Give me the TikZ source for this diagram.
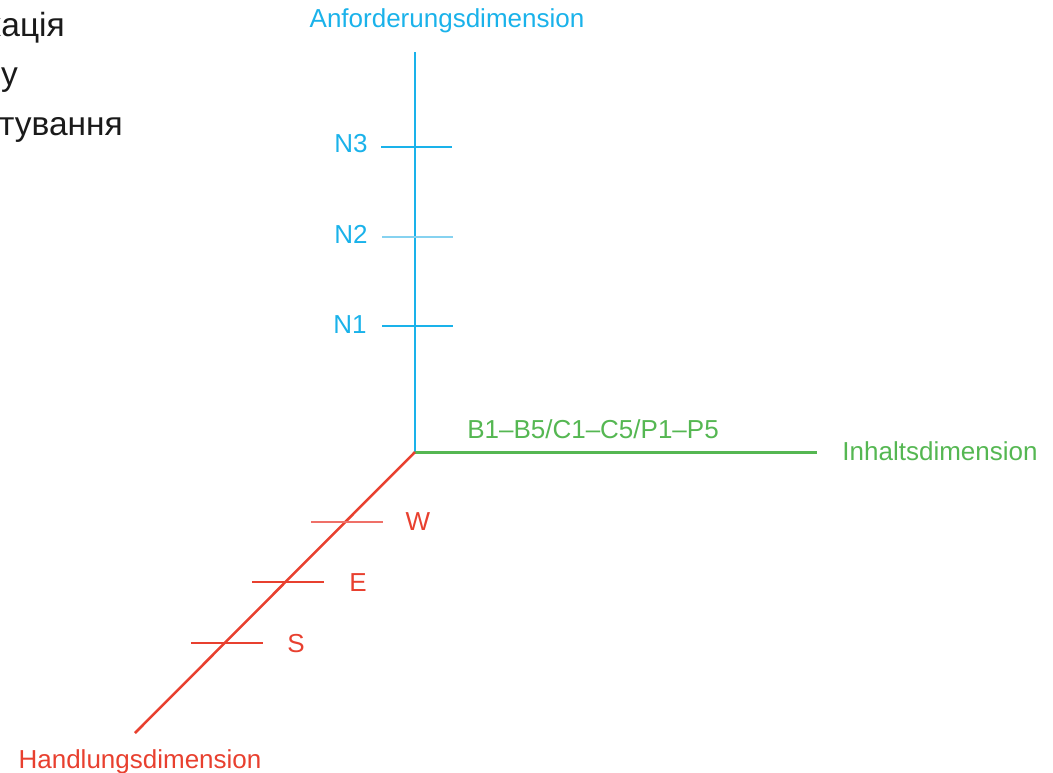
\documentclass[tikz,border=0pt]{standalone}
\usepackage{fontspec}
\setmainfont{Liberation Sans}
\definecolor{anfblue}{HTML}{1AB2EA}
\definecolor{anflight}{HTML}{86D2F0}
\definecolor{inhgreen}{HTML}{55B752}
\definecolor{handred}{HTML}{E8402F}
\definecolor{handlight}{HTML}{EF7068}
\definecolor{uatext}{HTML}{1A1A1A}
\begin{document}
\begin{tikzpicture}[x=1pt,y=-1pt,
  lab/.style={font=\fontsize{26}{30}\selectfont, inner sep=0pt, anchor=base},
  ukr/.style={font=\fontsize{33.5}{40}\selectfont, inner sep=0pt, anchor=base east, text=uatext},
  tickline/.style={line width=1.5pt}]
\useasboundingbox (0,0) rectangle (1053,772);
% caption on the left, cut off by the page
\node[ukr] (ua1) at (65,36) {кація};
\node[ukr] (ua2) at (18,85) {у};
\node[ukr] (ua3) at (123,135) {тування};
% the three axes
\coordinate (O) at (415,452);
\coordinate (atop) at (415,52);
\coordinate (iend) at (817,452);
\coordinate (hend) at (135,733);
\draw [anfblue, line width=2.5pt] (O) -- (atop);
\draw [inhgreen, line width=3pt] (O) -- (iend);
\draw [handred, line width=2.5pt] (O) -- (hend);
% Anforderungsdimension
\node[lab, text=anfblue] (anf) at (447,27) {Anforderungsdimension};
\coordinate (n3l) at (381,147); \coordinate (n3r) at (452,147);
\coordinate (n2l) at (382,237); \coordinate (n2r) at (453,237);
\coordinate (n1l) at (382,326); \coordinate (n1r) at (453,326);
\draw [tickline, anfblue] (n3l) -- (n3r);
\draw [tickline, anflight] (n2l) -- (n2r);
\draw [tickline, anfblue] (n1l) -- (n1r);
\node[lab, text=anfblue] (n3) at (351,152) {N3};
\node[lab, text=anfblue] (n2) at (351,243) {N2};
\node[lab, text=anfblue] (n1) at (350,333) {N1};
% Inhaltsdimension
\node[lab, text=inhgreen] (bcp) at (593,438) {B1–B5/C1–C5/P1–P5};
\node[lab, text=inhgreen] (inh) at (940,460) {Inhaltsdimension};
% Handlungsdimension
\coordinate (wl) at (311,522); \coordinate (wr) at (383,522);
\coordinate (el) at (252,582); \coordinate (er) at (324,582);
\coordinate (sl) at (191,643); \coordinate (sr) at (263,643);
\draw [tickline, handlight] (wl) -- (wr);
\draw [tickline, handred] (el) -- (er);
\draw [tickline, handred] (sl) -- (sr);
\node[lab, text=handred] (w) at (418,530) {W};
\node[lab, text=handred] (e) at (358,591) {E};
\node[lab, text=handred] (s) at (296,652) {S};
\node[lab, text=handred] (hand) at (140,768) {Handlungsdimension};
\end{tikzpicture}
\end{document}
